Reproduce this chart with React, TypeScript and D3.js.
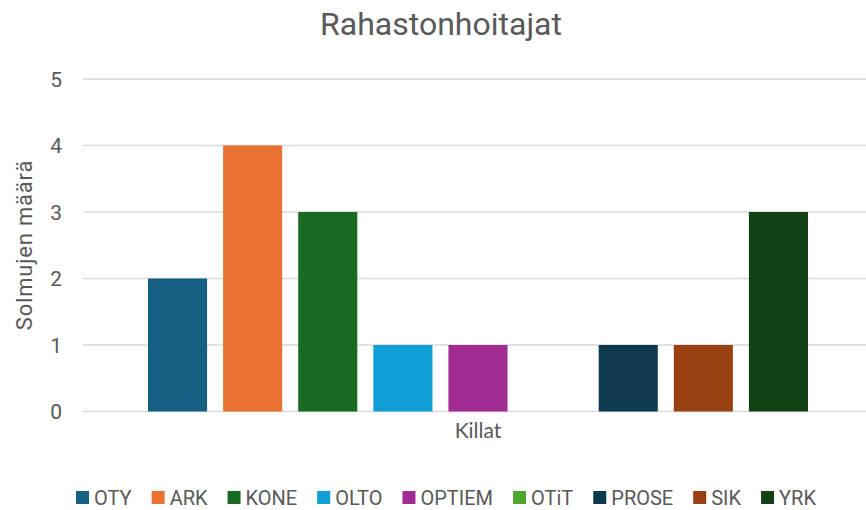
import React from "react";
import * as d3 from "d3";

const title = "Rahastonhoitajat";
const yAxisTitle = "Solmujen määrä";
const categories = ["Killat"];
const seriesNames = ["OTY", "ARK", "KONE", "OLTO", "OPTIEM", "OTiT", "PROSE", "SIK", "YRK"];
const seriesValues = [2, 4, 3, 1, 1, 0, 1, 1, 3];
const seriesColors = ["#156082", "#E97132", "#196B24", "#0F9ED5", "#A02B93", "#4EA72E", "#0E3A4F", "#984012", "#124116"];
const yTicks = [0, 1, 2, 3, 4, 5];

const W = 866;
const H = 510;
const plotLeft = 83;
const plotRight = 873;
const plotTop = 79;
const plotBottom = 411.5;
const textColor = "#595959";
const font = "Roboto, 'Open Sans', Arial, sans-serif";

function measure(text: string, size: number, family: string): number {
  const c = document.createElement("canvas");
  const ctx = c.getContext("2d");
  if (!ctx) return text.length * size * 0.55;
  ctx.font = `${size}px ${family}`;
  return ctx.measureText(text).width;
}

export default function App() {
  const y = d3.scaleLinear().domain([0, 5]).range([plotBottom, plotTop]);
  const x0 = d3.scaleBand<string>().domain(categories).range([plotLeft, plotRight]).paddingInner(0).paddingOuter(0.0985);
  const x1 = d3
    .scaleBand<string>()
    .domain(seriesNames)
    .range([0, x0.bandwidth()])
    .paddingInner(16 / 75)
    .paddingOuter(0);

  // legend layout
  const legendFont = 20;
  const marker = 13;
  const markerGap = 5;
  const itemGap = 20;
  const widths = seriesNames.map((s) => marker + markerGap + measure(s, legendFont, font));
  const total = widths.reduce((a, b) => a + b, 0) + itemGap * (seriesNames.length - 1);
  let lx = 446 - total / 2;
  const legendItems = seriesNames.map((s, i) => {
    const item = { name: s, x: lx, color: seriesColors[i] };
    lx += widths[i] + itemGap;
    return item;
  });
  const legendBaseline = 504.5;

  return (
    <svg width={W} height={H} style={{ position: "absolute", left: 0, top: 0, background: "#fff" }}>
      <rect x={0} y={0} width={W} height={H} fill="#fff" />
      <text x={441} y={35} textAnchor="middle" fontFamily={font} fontSize={32} fill={textColor}>
        {title}
      </text>
      {yTicks.map((t) => (
        <g key={t}>
          <line x1={plotLeft} x2={W} y1={y(t)} y2={y(t)} stroke="#d9d9d9" strokeWidth={1.5} />
          <text x={62} y={y(t) + 7.5} textAnchor="end" fontFamily={font} fontSize={21} fill={textColor}>
            {t}
          </text>
        </g>
      ))}
      {categories.map((c) => (
        <g key={c} transform={`translate(${x0(c)},0)`}>
          {seriesNames.map((s, i) => (
            <rect
              key={s}
              x={x1(s)}
              y={y(seriesValues[i])}
              width={x1.bandwidth()}
              height={plotBottom - y(seriesValues[i])}
              fill={seriesColors[i]}
            />
          ))}
          <text
            x={x0.bandwidth() / 2}
            y={438}
            textAnchor="middle"
            fontFamily="Lato, 'Open Sans', sans-serif"
            fontSize={21}
            fill={textColor}
          >
            {c}
          </text>
        </g>
      ))}
      <text
        transform={`translate(32,245) rotate(-90)`}
        textAnchor="middle"
        fontFamily={font}
        fontSize={22}
        letterSpacing={0.8}
        fill={textColor}
      >
        {yAxisTitle}
      </text>
      {legendItems.map((it) => (
        <g key={it.name}>
          <rect x={it.x} y={legendBaseline - 13.5} width={marker} height={marker} fill={it.color} />
          <text x={it.x + marker + markerGap} y={legendBaseline} fontFamily={font} fontSize={legendFont} fill={textColor}>
            {it.name}
          </text>
        </g>
      ))}
    </svg>
  );
}
